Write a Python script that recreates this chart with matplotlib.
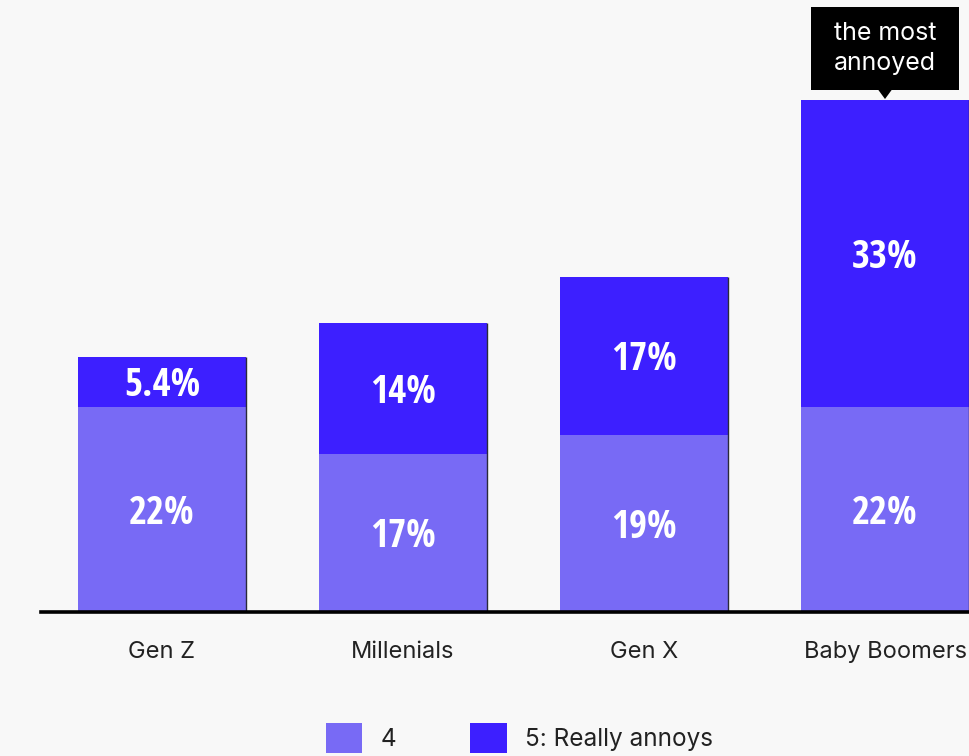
import matplotlib
matplotlib.use("Agg")
import matplotlib.pyplot as plt
from matplotlib.patches import Patch, Rectangle, Polygon
from matplotlib.transforms import offset_copy
import numpy as np

# Share of respondents rating each generation's annoyance level
generations = ["Gen Z", "Millenials", "Gen X", "Baby Boomers"]
rating_4 = [22, 17, 19, 22]
rating_5 = [5.4, 14, 17, 33]
labels_4 = ["22%", "17%", "19%", "22%"]
labels_5 = ["5.4%", "14%", "17%", "33%"]
series_names = ["4", "5: Really annoys"]

color_4 = "#786AF5"
color_5 = "#3D1FFF"
bg = "#F8F8F8"
text_family = ["Inter", "Liberation Sans", "DejaVu Sans"]

W, H, DPI = 969, 756, 100
fig = plt.figure(figsize=(W / DPI, H / DPI), dpi=DPI, facecolor=bg)

px_per_unit = 9.31
axis_y = 612
ax = fig.add_axes([41 / W, (H - axis_y) / H, (W - 41) / W, axis_y / H])
ax.set_facecolor(bg)

x = np.arange(len(generations))
width = 0.697
r4 = np.array(rating_4)
r5 = np.array(rating_5)
totals = r4 + r5

ax.bar(x, r4, width, color=color_4, linewidth=0, zorder=2)
ax.bar(x, r5, width, bottom=r4, color=color_5, linewidth=0, zorder=2)
# thin shadow along the right edge of each bar
ax.vlines(x + width / 2, 0, totals, color="#2a2a3a", lw=1.0, zorder=3)

value_font = dict(family=["Open Sans Condensed", "Liberation Sans Narrow",
                          "DejaVu Sans"],
                  stretch="condensed", weight="bold", size=28, color="white")
label_trans = offset_copy(ax.transData, fig=fig, x=0, y=-4, units="dots")
for xi, a, b, la, lb in zip(x, r4, r5, labels_4, labels_5):
    ax.text(xi, a / 2, la, ha="center", va="center", zorder=4,
            transform=label_trans, **value_font)
    ax.text(xi, a + b / 2, lb, ha="center", va="center", zorder=4,
            transform=label_trans, **value_font)

ax.set_xlim((41 - 162) / 241, (W - 162) / 241)
ax.set_ylim(0, axis_y / px_per_unit)

for s in ["top", "right", "left"]:
    ax.spines[s].set_visible(False)
ax.spines["bottom"].set_linewidth(2.6)
ax.spines["bottom"].set_color("black")
ax.spines["bottom"].set_zorder(5)
ax.set_yticks([])
ax.set_xticks(x)
ax.set_xticklabels(generations, family=text_family, fontsize=17,
                   color="#222222")
ax.tick_params(axis="x", length=0, pad=21)

# callout above the tallest bar
top_idx = int(np.argmax(totals))
top = totals[top_idx]
bx = x[top_idx]
box_w = 148 / 241
gap = 10 / px_per_unit
box_h = 83 / px_per_unit
ax.add_patch(Rectangle((bx - box_w / 2, top + gap), box_w, box_h,
                       facecolor="black", edgecolor="none", zorder=6,
                       clip_on=False))
tri_half = 7 / 241
ax.add_patch(Polygon([[bx - tri_half, top + gap + 0.05], [bx + tri_half, top + gap + 0.05],
                      [bx, top + 0.1]], closed=True, facecolor="black",
                     edgecolor="none", zorder=6, clip_on=False))
ax.text(bx, top + gap + box_h / 2, "the most\nannoyed", ha="center", va="center",
        color="white", family=text_family, fontsize=18, linespacing=1.4,
        zorder=7)

handles = [Patch(facecolor=color_4, edgecolor="none"),
           Patch(facecolor=color_5, edgecolor="none")]
fig.legend(handles, series_names, ncol=2, loc="center left",
           bbox_to_anchor=(326 / W, (H - 738) / H), frameon=False,
           prop=dict(family=text_family, size=17.5),
           handlelength=1.5, handleheight=1.5, handletextpad=0.75,
           columnspacing=3.05, borderpad=0, borderaxespad=0,
           labelcolor="#222222")

fig.savefig("out.png", dpi=DPI, facecolor=bg)
